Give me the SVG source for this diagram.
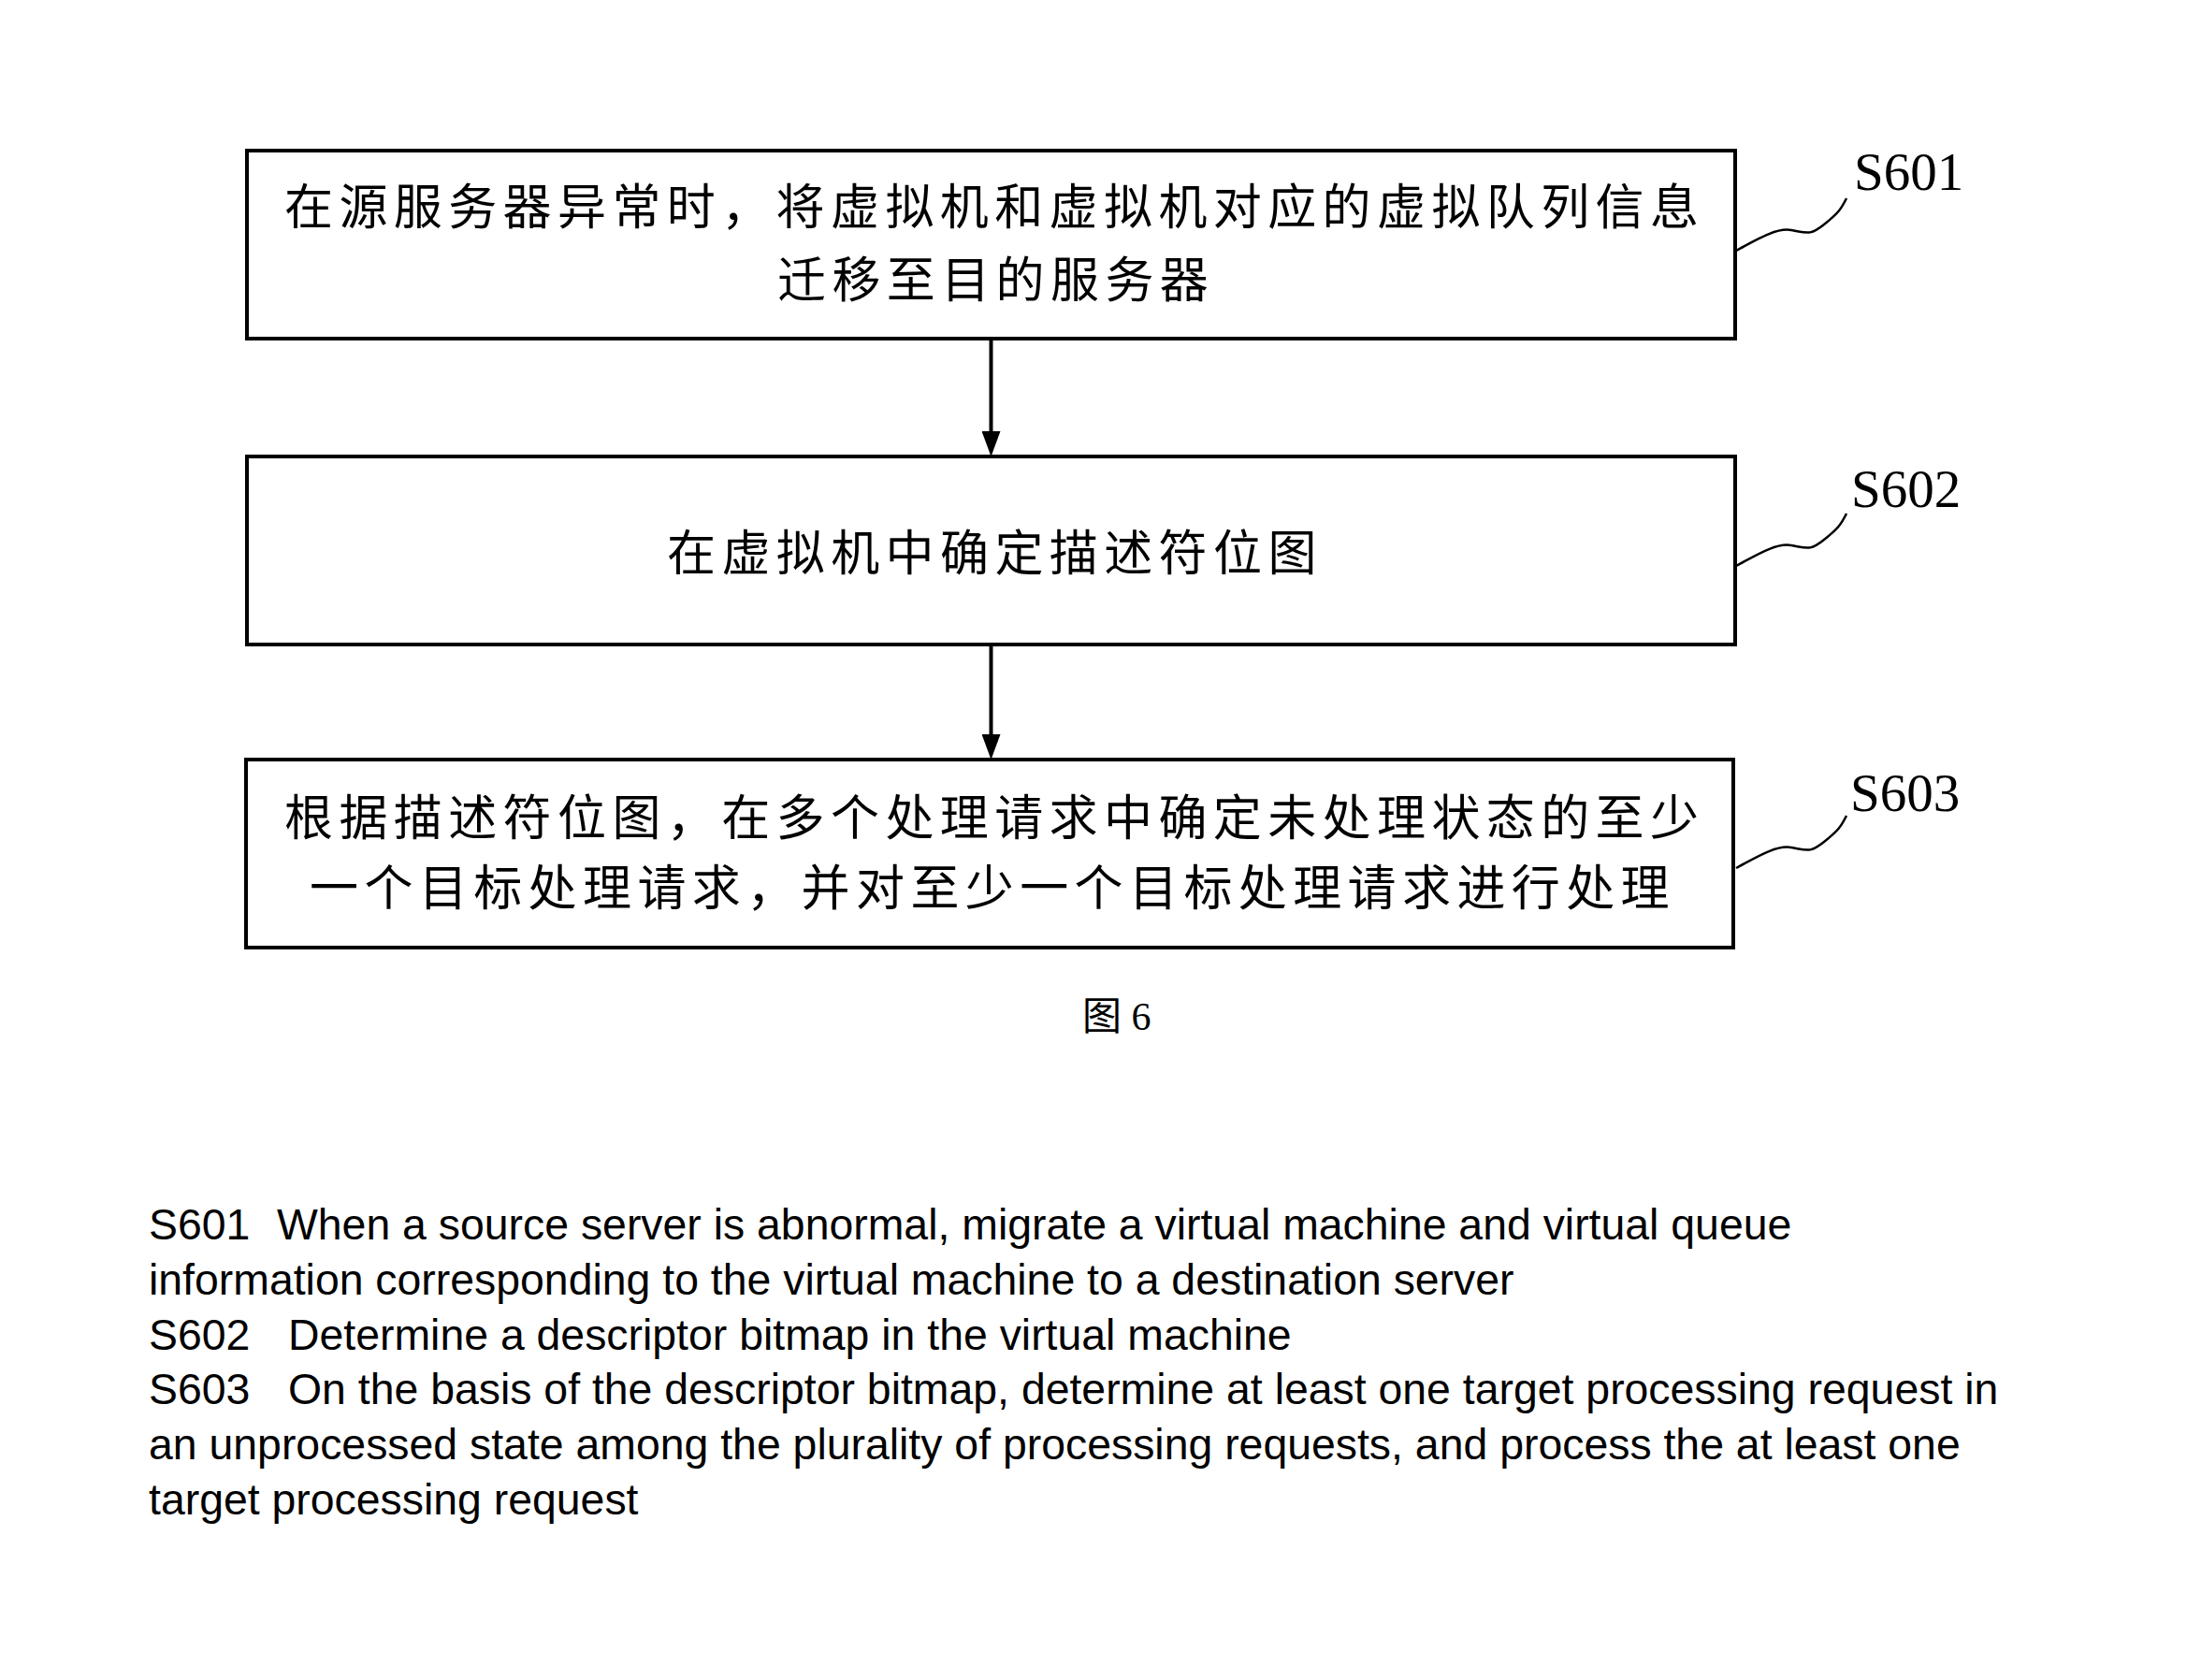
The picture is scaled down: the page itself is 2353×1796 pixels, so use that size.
<svg xmlns="http://www.w3.org/2000/svg" width="2353" height="1796" viewBox="0 0 2353 1796">
<defs>
<style>
.box{fill:#fff;stroke:#000;stroke-width:4}
.zh{font-family:"Noto Sans CJK SC","Noto Sans CJK JP",sans-serif;font-size:52px;letter-spacing:6.4px;fill:#000}
.lbl{font-family:"Liberation Serif","Times New Roman",serif;font-size:57px;fill:#000}
.en{font-family:"Liberation Sans",Arial,sans-serif;font-size:46.4px;fill:#000}
.cap{font-family:"Liberation Serif","Noto Sans CJK SC",serif;font-size:42px;fill:#000}
.flow{stroke:#000;stroke-width:4;fill:none}
.lead{stroke:#000;stroke-width:2.5;fill:none}
</style>
<marker id="ah" markerUnits="userSpaceOnUse" markerWidth="27" markerHeight="20" refX="19" refY="10" orient="auto">
<path d="M0,0 L27,10 L0,20 z" fill="#000"/>
</marker>
</defs>
<rect width="2353" height="1796" fill="#fff"/>

<g id="connectors">
<line class="flow" x1="1059.5" y1="363" x2="1059.5" y2="480" marker-end="url(#ah)"/>
<line class="flow" x1="1059.5" y1="690" x2="1059.5" y2="804" marker-end="url(#ah)"/>
<path class="lead" d="M1856,268 C1875,258 1898,243 1915,246 S1935,252 1950,240 S1968,224 1974,212"/>
<path class="lead" d="M1856,605 C1875,595 1898,580 1915,583 S1935,589 1950,577 S1968,561 1974,549"/>
<path class="lead" d="M1856,928 C1875,918 1898,903 1915,906 S1935,912 1950,900 S1968,884 1974,872"/>
</g>

<g id="S601">
<rect class="box" x="264" y="161" width="1591" height="201"/>
<text class="zh" x="304" y="240">在源服务器异常时，将虚拟机和虚拟机对应的虚拟队列信息</text>
<text class="zh" x="831" y="318">迁移至目的服务器</text>
<text class="lbl" x="1982" y="203">S601</text>
</g>

<g id="S602">
<rect class="box" x="264" y="488" width="1591" height="201"/>
<text class="zh" x="713" y="610">在虚拟机中确定描述符位图</text>
<text class="lbl" x="1979" y="542">S602</text>
</g>

<g id="S603">
<rect class="box" x="263" y="812" width="1590" height="201"/>
<text class="zh" x="304" y="893">根据描述符位图，在多个处理请求中确定未处理状态的至少</text>
<text class="zh" x="331" y="968">一个目标处理请求，并对至少一个目标处理请求进行处理</text>
<text class="lbl" x="1978" y="867">S603</text>
</g>

<g id="caption">
<text class="cap" x="1157" y="1101">图 6</text>
</g>

<g id="legend">
<text class="en" x="159" y="1325">S601</text>
<text class="en" x="296" y="1325">When a source server is abnormal, migrate a virtual machine and virtual queue</text>
<text class="en" x="159" y="1384">information corresponding to the virtual machine to a destination server</text>
<text class="en" x="159" y="1443">S602</text>
<text class="en" x="308" y="1443">Determine a descriptor bitmap in the virtual machine</text>
<text class="en" x="159" y="1501">S603</text>
<text class="en" x="308" y="1501">On the basis of the descriptor bitmap, determine at least one target processing request in</text>
<text class="en" x="159" y="1560">an unprocessed state among the plurality of processing requests, and process the at least one</text>
<text class="en" x="159" y="1619">target processing request</text>
</g>
</svg>
